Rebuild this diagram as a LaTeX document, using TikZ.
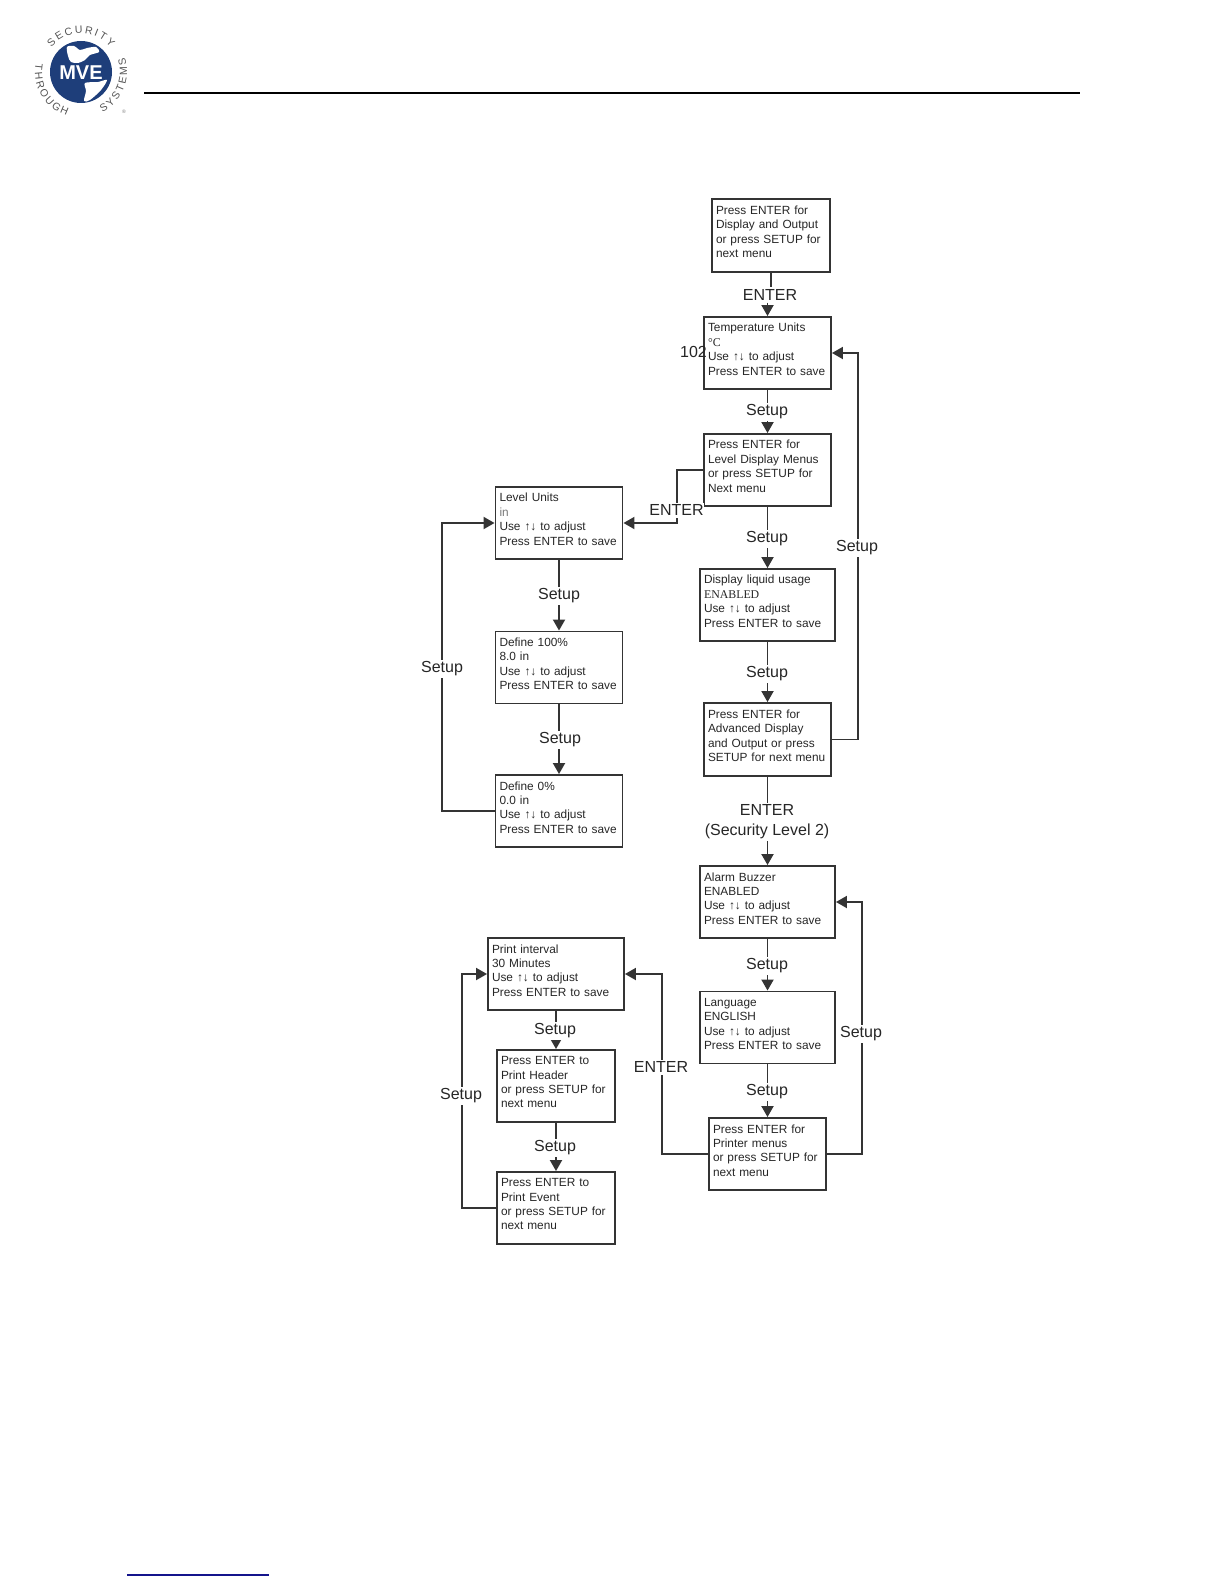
\documentclass[tikz,border=0pt]{standalone}
\usepackage{fontspec}
\setmainfont{Liberation Sans}
\newfontfamily\unitfont{Liberation Serif}
\usepackage{xcolor}
\usetikzlibrary{arrows.meta, decorations.text}
\definecolor{inkgray}{RGB}{38,38,38}
\definecolor{wiregray}{RGB}{52,52,52}
\definecolor{softgray}{RGB}{120,120,120}
\definecolor{logogray}{RGB}{85,85,85}
\definecolor{globeblue}{RGB}{30,62,122}
\definecolor{linkblue}{RGB}{20,20,140}
\newcommand{\boxfont}{\fontsize{11.85}{14.4}\selectfont}
\newcommand{\tagfont}{\fontsize{16}{20}\selectfont}
\newcommand{\logofont}{\fontsize{10.5}{12}\selectfont\color{logogray}}
\newcommand{\updown}{↑↓}
\tikzset{
  menubox/.style={draw=wiregray, line width=1.9pt, text=inkgray, text width=#1, inner xsep=4pt, inner ysep=0pt, minimum height=72pt, align=left, font=\boxfont, execute at end node={\\[-7pt]\mbox{}}},
  menubox/.default=119pt,
  flowline/.style={draw=wiregray, line width=1.9pt},
  flow/.style={flowline, -{Triangle[length=11pt,width=12pt]}},
  flowtag/.style={fill=white, text=inkgray, inner xsep=0pt, inner ysep=2pt, align=center, font=\tagfont}
}

\begin{document}
\begin{tikzpicture}[x=1pt, y=-1pt]
  \useasboundingbox (0,0) rectangle (1224,1584);

  % Header
  \draw[black, line width=2pt] (144,93) -- (1080,93);
  \coordinate (logoC) at (81,72);
  \fill[globeblue] (logoC) circle (31);
  \fill[white] plot[smooth cycle] coordinates {(67,47) (74,46) (80,50) (87,48) (96,47) (99,52) (90,55) (85,60) (78,63) (71,62) (68,56)};
  \fill[white] plot[smooth cycle] coordinates {(85,83) (98,82) (107,80) (101,90) (90,100) (84,101) (86,91)};
  \node[text=white, inner sep=0pt, font=\fontsize{20}{20}\selectfont\bfseries] (logoName) at (81,73) {MVE};
  \path[decorate, decoration={text along path, text align={fit to path}, text={|\logofont|SECURITY}}]
    ([shift={(-140:38.5)}]logoC) arc[start angle=-140, end angle=-40, radius=38.5];
  \path[decorate, decoration={text along path, text align={fit to path}, text={|\logofont|THROUGH}}]
    ([shift={(-170:46)}]logoC) arc[start angle=-170, end angle=-252, radius=46];
  \path[decorate, decoration={text along path, text align={fit to path}, text={|\logofont|SYSTEMS}}]
    ([shift={(62:46)}]logoC) arc[start angle=62, end angle=-18, radius=46];
  \node[text=softgray, inner sep=0pt, font=\fontsize{5}{5}\selectfont] (logoMark) at (124,112) {®};

  % Main column
  \node[menubox=110pt, minimum height=73pt] (pressDisp) at (771,235.5) {Press ENTER for\\Display and Output\\or press SETUP for\\next menu};
  \node[menubox] (tempUnits) at (767.5,353) {Temperature Units\\{\unitfont °C}\\Use \updown{} to adjust\\Press ENTER to save};
  \node[menubox] (levelMenu) at (767.5,470) {Press ENTER for\\Level Display Menus\\or press SETUP for\\Next menu};
  \node[menubox=127pt] (liquidUsage) at (767.5,605) {Display liquid usage\\{\unitfont ENABLED}\\Use \updown{} to adjust\\Press ENTER to save};
  \node[menubox, minimum height=73pt] (advDisp) at (767.5,739.5) {Press ENTER for\\Advanced Display\\and Output or press\\SETUP for next menu};
  \node[menubox=127pt] (alarmBuzzer) at (767.5,902) {Alarm Buzzer\\ENABLED\\Use \updown{} to adjust\\Press ENTER to save};
  \node[menubox=127pt] (language) at (767.5,1027.5) {Language\\ENGLISH\\Use \updown{} to adjust\\Press ENTER to save};
  \node[menubox=109pt] (printerMenu) at (767.5,1154) {Press ENTER for\\Printer menus\\or press SETUP for\\next menu};

  % Level menus
  \node[menubox] (levelUnits) at (559,523) {Level Units\\{\color{softgray}in}\\Use \updown{} to adjust\\Press ENTER to save};
  \node[menubox] (define100) at (559,667.5) {Define 100\%\\8.0 in\\Use \updown{} to adjust\\Press ENTER to save};
  \node[menubox] (define0) at (559,811) {Define 0\%\\0.0 in\\Use \updown{} to adjust\\Press ENTER to save};

  % Printer menus
  \node[menubox=128pt] (printInterval) at (556,974) {Print interval\\30 Minutes\\Use \updown{} to adjust\\Press ENTER to save};
  \node[menubox=110pt] (printHeader) at (556,1086) {Press ENTER to\\Print Header\\or press SETUP for\\next menu};
  \node[menubox=110pt] (printEvent) at (556,1208) {Press ENTER to\\Print Event\\or press SETUP for\\next menu};

  % Corners of the loops
  \coordinate (tempTurn) at (858,353);
  \coordinate (levelTurn) at (677,523);
  \coordinate (defineTurn) at (442,523);
  \coordinate (alarmTurn) at (862,902);
  \coordinate (printerTurn) at (662,974);
  \coordinate (eventTurn) at (462,974);

  % Loops
  \draw[flow] (advDisp.east) -| (tempTurn) -- (tempUnits.east);
  \draw[flow] (levelMenu.west) -| (levelTurn) -- (levelUnits.east);
  \draw[flow] (define0.west) -| (defineTurn) -- (levelUnits.west);
  \draw[flow] (printerMenu.east) -| (alarmTurn) -- (alarmBuzzer.east);
  \draw[flow] (printerMenu.west) -| (printerTurn) -- (printInterval.east);
  \draw[flow] (printEvent.west) -| (eventTurn) -- (printInterval.west);

  % Steps
  \node[flowtag] (enterTop) at (770,295) {ENTER};
  \draw[flowline] (pressDisp.south) -- (pressDisp.south |- enterTop.north);
  \draw[flow] (tempUnits.north |- enterTop.south) -- (tempUnits.north);
  \draw[flow] (tempUnits.south) -- (levelMenu.north);
  \draw[flow] (levelMenu.south) -- (liquidUsage.north);
  \draw[flow] (liquidUsage.south) -- (advDisp.north);
  \draw[flow] (advDisp.south) -- (alarmBuzzer.north);
  \draw[flow] (alarmBuzzer.south) -- (language.north);
  \draw[flow] (language.south) -- (printerMenu.north);
  \draw[flow] (levelUnits.south) -- (define100.north);
  \draw[flow] (define100.south) -- (define0.north);
  \draw[flow] (printInterval.south) -- (printHeader.north);
  \draw[flow] (printHeader.south) -- (printEvent.north);

  % Labels
  \node[flowtag] (setupTemp) at (767,412) {Setup};
  \node[flowtag] (setupLevel) at (767,539) {Setup};
  \node[flowtag] (setupLiquid) at (767,674) {Setup};
  \node[flowtag] (enterSecurity) at (767,822) {ENTER\\(Security Level 2)};
  \node[flowtag] (setupAlarm) at (767,966) {Setup};
  \node[flowtag] (setupLanguage) at (767,1092) {Setup};
  \node[flowtag] (setupBack) at (857,548) {Setup};
  \node[flowtag] (setupPrinter) at (861,1034) {Setup};
  \node[flowtag] (enterPrinter) at (661,1067) {ENTER};
  \node[flowtag] (enterLevel) at (676.5,510) {ENTER};
  \node[flowtag] (setupUnits) at (559,596) {Setup};
  \node[flowtag] (setupDefine) at (560,740) {Setup};
  \node[flowtag] (setupZero) at (442,669) {Setup};
  \node[flowtag] (setupInterval) at (555,1031) {Setup};
  \node[flowtag] (setupHeader) at (555,1148) {Setup};
  \node[flowtag] (setupEvent) at (461,1096) {Setup};
  \node[text=inkgray, inner sep=0pt, font=\tagfont] (stray) at (693.5,352) {102};

  % Footer
  \draw[linkblue, line width=1.3pt] (127,1575) -- (269,1575);
\end{tikzpicture}
\end{document}
